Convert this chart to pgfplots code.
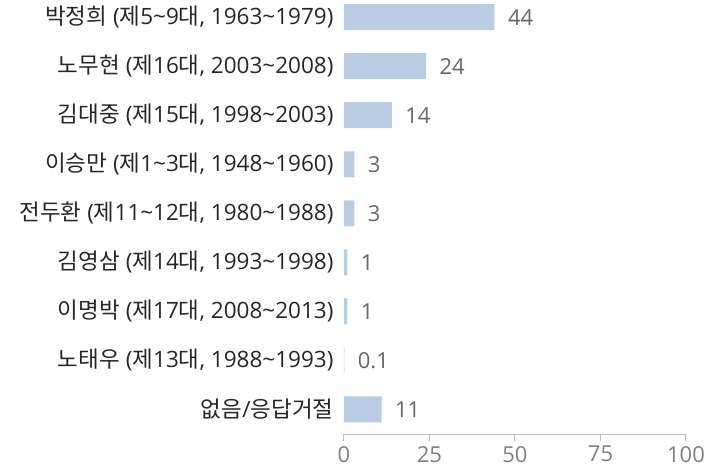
\documentclass[border=0pt]{standalone}
\usepackage{fontspec}
\setmainfont{Open Sans}
\newfontfamily\kr{Noto Sans CJK KR}
\usepackage{pgfplots}
\pgfplotsset{compat=1.18}
\definecolor{barc}{HTML}{B8CCE4}
\definecolor{axc}{HTML}{BFBFBF}
\definecolor{tickc}{HTML}{808080}
\definecolor{valc}{HTML}{666666}
\definecolor{catc}{HTML}{262626}
\newcommand{\tl}{\char"007E\relax}
\newcommand{\hk}[1]{{\kr\fontsize{22.5}{26}\selectfont #1}}
\begin{document}
\begin{tikzpicture}[x=1pt,y=1pt]
\useasboundingbox (-344,-38) rectangle (377,434);
\begin{axis}[
  at={(0,0)}, anchor=south west,
  scale only axis, width=342pt, height=434pt,
  xbar, bar width=26pt,
  xmin=0, xmax=100,
  ymin=-0.35, ymax=8.5, y dir=reverse,
  xtick={0,25,50,75,100},
  ytick={0,...,8},
  yticklabels={\hk{박정희} (\hk{제}5\tl 9\hk{대}{,} 1963\tl 1979),\hk{노무현} (\hk{제}16\hk{대}{,} 2003\tl 2008),\hk{김대중} (\hk{제}15\hk{대}{,} 1998\tl 2003),\hk{이승만} (\hk{제}1\tl 3\hk{대}{,} 1948\tl 1960),\hk{전두환} (\hk{제}11\tl 12\hk{대}{,} 1980\tl 1988),\hk{김영삼} (\hk{제}14\hk{대}{,} 1993\tl 1998),\hk{이명박} (\hk{제}17\hk{대}{,} 2008\tl 2013),\hk{노태우} (\hk{제}13\hk{대}{,} 1988\tl 1993),\hk{없음}/\hk{응답거절}},
  separate axis lines,
  axis x line=bottom, axis y line=left,
  x axis line style={draw=axc, line width=1pt, -},
  y axis line style={draw=none},
  tick align=outside,
  xtick style={draw=axc, line width=1pt},
  major tick length=7pt,
  ytick style={draw=none},
  /pgf/number format/assume math mode=true,
  xticklabel style={font=\fontsize{22}{26}\selectfont, text=tickc, yshift=-4pt, inner sep=1pt},
  yticklabel style={font=\fontsize{22.5}{26}\selectfont, text=catc, xshift=0pt},
  clip=false,
  nodes near coords,
  point meta=explicit symbolic,
  nodes near coords style={font=\fontsize{22}{26}\selectfont, text=valc, anchor=west, xshift=10pt},
]
\addplot[fill=barc, draw=none] table[x=v, y=c, meta=l] {
c v l
0 44 44
1 24 24
2 14 14
3 3 3
4 3 3
5 1 1
6 1 1
7 0.1 0.1
8 11 11
};
\end{axis}
\end{tikzpicture}
\end{document}
